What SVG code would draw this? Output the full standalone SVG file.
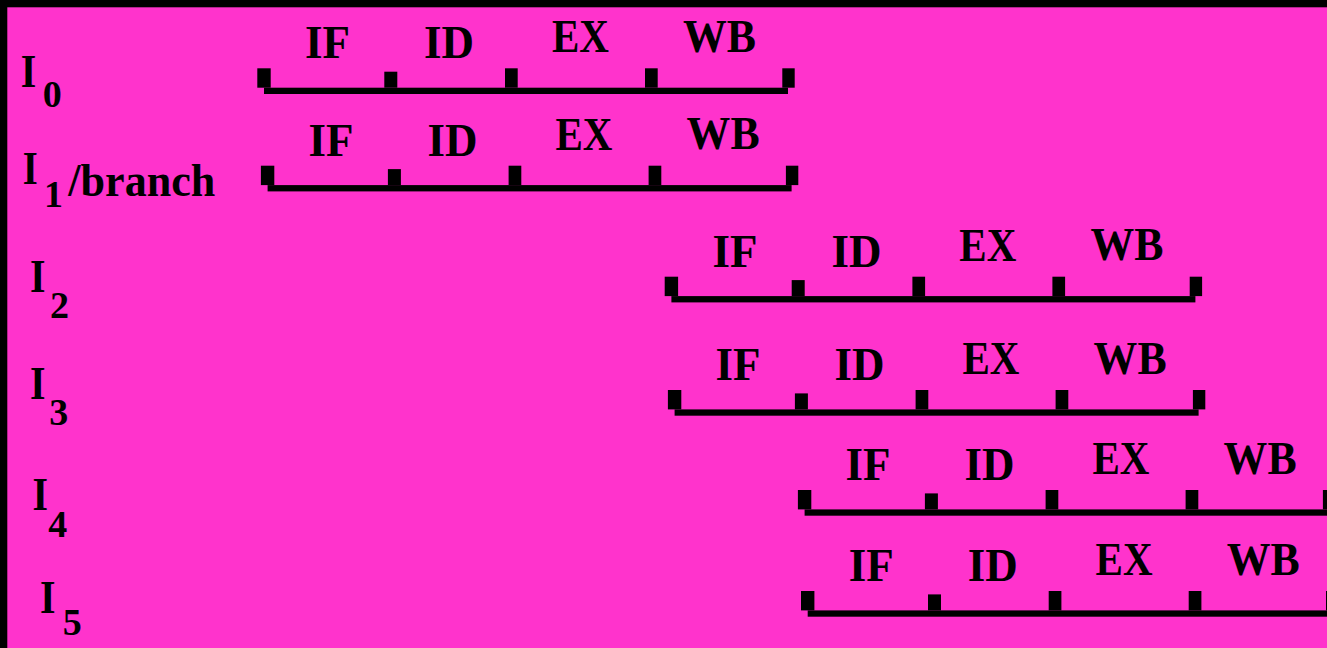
<svg xmlns="http://www.w3.org/2000/svg" width="1327" height="648" viewBox="0 0 1327 648">
<style>
text{font-family:"Liberation Serif","Times New Roman",serif;font-weight:bold;fill:#000}
.st{font-size:47px;text-anchor:middle}
.lb{font-size:47px}
.sb{font-size:38px}
.bar rect{fill:#000}
</style>
<defs>
<g id="bar">
<rect x="264" y="87.7" width="524" height="6.3"/>
<rect x="257.3" y="68.3" width="13.4" height="19.4"/>
<rect x="384.3" y="71.7" width="13" height="16"/>
<rect x="505" y="68.3" width="12.7" height="19.4"/>
<rect x="645" y="68.3" width="12.7" height="19.4"/>
<rect x="782.3" y="68.3" width="12.4" height="19.4"/>
</g>
</defs>
<rect x="0" y="0" width="1327" height="648" fill="#000"/>
<rect x="7.3" y="7.3" width="1319.7" height="640.7" fill="#ff33cc"/>

<g id="label-I0"><text class="lb" x="20.7" y="87.3" textLength="15.5" lengthAdjust="spacingAndGlyphs">I</text><text class="sb" x="42.7" y="107.3">0</text></g>
<g id="label-I1"><text class="lb" x="22.7" y="184" textLength="15" lengthAdjust="spacingAndGlyphs">I</text><text class="sb" x="44" y="206.7">1</text><text class="lb" x="68.3" y="196" textLength="147" lengthAdjust="spacingAndGlyphs">/branch</text></g>
<g id="label-I2"><text class="lb" x="30" y="291.7" textLength="15.5" lengthAdjust="spacingAndGlyphs">I</text><text class="sb" x="50" y="318.3">2</text></g>
<g id="label-I3"><text class="lb" x="30" y="399" textLength="15.5" lengthAdjust="spacingAndGlyphs">I</text><text class="sb" x="49.3" y="425">3</text></g>
<g id="label-I4"><text class="lb" x="32.5" y="510" textLength="15.5" lengthAdjust="spacingAndGlyphs">I</text><text class="sb" x="48.3" y="536.7">4</text></g>
<g id="label-I5"><text class="lb" x="40" y="613.3" textLength="15.5" lengthAdjust="spacingAndGlyphs">I</text><text class="sb" x="62.7" y="635">5</text></g>

<g id="row-I0" transform="translate(0,0)">
<use href="#bar" class="bar"/>
<text class="st" x="327.5" y="58.3" textLength="45" lengthAdjust="spacingAndGlyphs">IF</text><text class="st" x="449" y="58.3" textLength="50" lengthAdjust="spacingAndGlyphs">ID</text><text class="st" x="580.4" y="52.3" textLength="57" lengthAdjust="spacingAndGlyphs">EX</text><text class="st" x="719.5" y="52" textLength="73" lengthAdjust="spacingAndGlyphs">WB</text>
</g>
<g id="row-I1" transform="translate(3.6,97.4)">
<use href="#bar" class="bar"/>
<text class="st" x="327.5" y="58.3" textLength="45" lengthAdjust="spacingAndGlyphs">IF</text><text class="st" x="449" y="58.3" textLength="50" lengthAdjust="spacingAndGlyphs">ID</text><text class="st" x="580.4" y="52.3" textLength="57" lengthAdjust="spacingAndGlyphs">EX</text><text class="st" x="719.5" y="52" textLength="73" lengthAdjust="spacingAndGlyphs">WB</text>
</g>
<g id="row-I2" transform="translate(407.4,208.4)">
<use href="#bar" class="bar"/>
<text class="st" x="327.5" y="58.3" textLength="45" lengthAdjust="spacingAndGlyphs">IF</text><text class="st" x="449" y="58.3" textLength="50" lengthAdjust="spacingAndGlyphs">ID</text><text class="st" x="580.4" y="52.3" textLength="57" lengthAdjust="spacingAndGlyphs">EX</text><text class="st" x="719.5" y="52" textLength="73" lengthAdjust="spacingAndGlyphs">WB</text>
</g>
<g id="row-I3" transform="translate(410.6,321.7)">
<use href="#bar" class="bar"/>
<text class="st" x="327.5" y="58.3" textLength="45" lengthAdjust="spacingAndGlyphs">IF</text><text class="st" x="449" y="58.3" textLength="50" lengthAdjust="spacingAndGlyphs">ID</text><text class="st" x="580.4" y="52.3" textLength="57" lengthAdjust="spacingAndGlyphs">EX</text><text class="st" x="719.5" y="52" textLength="73" lengthAdjust="spacingAndGlyphs">WB</text>
</g>
<g id="row-I4" transform="translate(540.6,421.7)">
<use href="#bar" class="bar"/>
<text class="st" x="327.5" y="58.3" textLength="45" lengthAdjust="spacingAndGlyphs">IF</text><text class="st" x="449" y="58.3" textLength="50" lengthAdjust="spacingAndGlyphs">ID</text><text class="st" x="580.4" y="52.3" textLength="57" lengthAdjust="spacingAndGlyphs">EX</text><text class="st" x="719.5" y="52" textLength="73" lengthAdjust="spacingAndGlyphs">WB</text>
</g>
<g id="row-I5" transform="translate(543.7,522.7)">
<use href="#bar" class="bar"/>
<text class="st" x="327.5" y="58.3" textLength="45" lengthAdjust="spacingAndGlyphs">IF</text><text class="st" x="449" y="58.3" textLength="50" lengthAdjust="spacingAndGlyphs">ID</text><text class="st" x="580.4" y="52.3" textLength="57" lengthAdjust="spacingAndGlyphs">EX</text><text class="st" x="719.5" y="52" textLength="73" lengthAdjust="spacingAndGlyphs">WB</text>
</g>
<g id="connectors"/>
</svg>
